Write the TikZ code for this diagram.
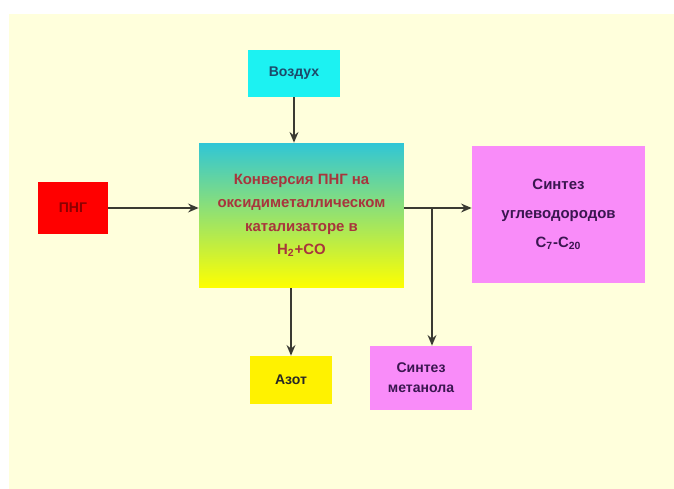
\documentclass[tikz,border=0pt]{standalone}
\usepackage{fontspec}
\setmainfont{Liberation Sans}
\usetikzlibrary{arrows.meta}
\usetikzlibrary{positioning}
\definecolor{cream}{HTML}{FFFFDC}
\definecolor{aqua}{HTML}{1CF2F2}
\definecolor{konvtop}{HTML}{30C6D6}
\definecolor{orchid}{HTML}{F98CF9}
\definecolor{konvtext}{HTML}{A8353C}
\definecolor{violettext}{HTML}{3A1650}
\definecolor{airtext}{HTML}{1C4A6A}
\definecolor{linegray}{HTML}{3A3A32}

\begin{document}
\begin{tikzpicture}[x=0.02cm, y=-0.02cm,
    box/.style={rectangle, inner sep=0pt, align=center, font=\bfseries\fontsize{8}{13}\selectfont},
    link/.style={draw=linegray, line width=1.1pt, -{Stealth[length=6pt, width=5pt]}}]
    \useasboundingbox (0, 0) rectangle (674, 489);
    \fill[cream] (9, 14) rectangle (674, 489);

    \node[box, fill=aqua, text=airtext, minimum width=1.84cm, minimum height=0.94cm] (vozd) at (294, 73.5) {Воздух};
    \node[box, top color=konvtop, bottom color=yellow, text=konvtext, minimum width=4.1cm, minimum height=2.9cm,
        font=\bfseries\fontsize{8.5}{13.3}\selectfont] (konv) at (301.5, 215.5)
        {Конверсия ПНГ на\\оксидиметаллическом\\катализаторе в\\H\textsubscript{2}+CO};
    \node[box, fill=red, text=red!55!black, minimum width=1.4cm, minimum height=1.04cm] (png) at (73, 208) {ПНГ};
    \node[box, fill=orchid, text=violettext, minimum width=3.46cm, minimum height=2.74cm,
        font=\bfseries\fontsize{8.5}{16.5}\selectfont] (uglev) at (558.5, 214.5)
        {Синтез\\углеводородов\\C\textsubscript{7}-C\textsubscript{20}};
    \node[box, fill=orchid, text=violettext, minimum width=2.04cm, minimum height=1.28cm,
        font=\bfseries\fontsize{8}{11.3}\selectfont] (metanol) at (421, 378) {Синтез\\метанола};
    \node[box, fill=yellow, text=black!85, minimum width=1.64cm, minimum height=0.96cm] (azot) at (291, 380) {Азот};

    \coordinate (br) at (432, 208);
    \draw[link] (vozd.south) -- (vozd.south |- konv.north);
    \draw[link] (png.east) -- (png -| konv.west);
    \draw[link] (konv.east |- png) -- (uglev.west |- png);
    \draw[link] (br) -- (br |- metanol.north);
    \draw[link] (azot.north |- konv.south) -- (azot.north);
\end{tikzpicture}
\end{document}
